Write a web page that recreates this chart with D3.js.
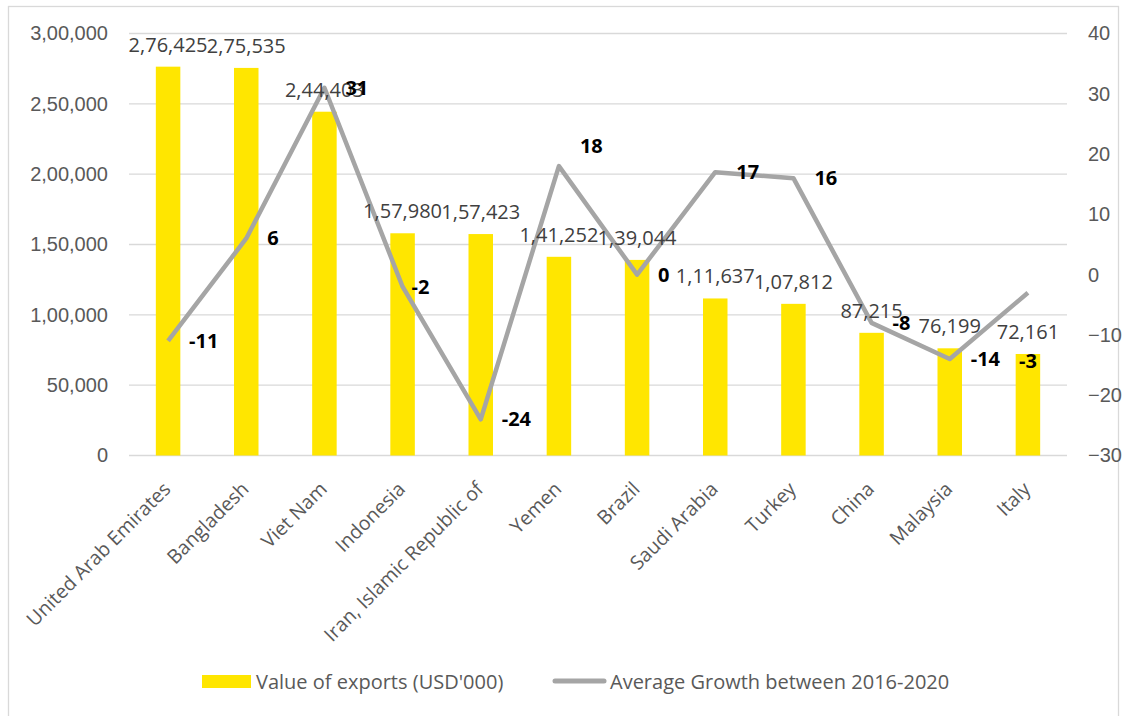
<!DOCTYPE html>
<html>
<head>
<meta charset="utf-8">
<script src="https://cdn.jsdelivr.net/npm/d3@7"></script>
<style>
  body { margin: 0; background: #fff; }
  svg { font-family: "Open Sans", sans-serif; }
</style>
</head>
<body>
<svg id="chart" width="1126" height="716"></svg>
<script>
// chart data
var countries = ["United Arab Emirates", "Bangladesh", "Viet Nam", "Indonesia",
    "Iran, Islamic Republic of", "Yemen", "Brazil", "Saudi Arabia", "Turkey",
    "China", "Malaysia", "Italy"];
var exportValues = [276425, 275535, 244403, 157980, 157423, 141252, 139044,
    111637, 107812, 87215, 76199, 72161];
var growth = [-11, 6, 31, -2, -24, 18, 0, 17, 16, -8, -14, -3];
var leftTicks = [0, 50000, 100000, 150000, 200000, 250000, 300000];
var rightTicks = [-30, -20, -10, 0, 10, 20, 30, 40];

// indian style grouping, e.g. 2,76,425
function inrFormat(n) {
    var s = String(Math.round(n));
    if (s.length <= 3) return s;
    var last3 = s.slice(-3);
    var rest = s.slice(0, -3);
    rest = rest.replace(/\B(?=(\d{2})+(?!\d))/g, ",");
    return rest + "," + last3;
}

var svg = d3.select("#chart");

var plotLeft = 129, plotRight = 1067, plotTop = 33.5, plotBottom = 455.5;

// outer border
svg.append("rect")
    .attr("x", 8.5).attr("y", 6.5)
    .attr("width", 1110).attr("height", 730)
    .attr("fill", "none")
    .attr("stroke", "#d9d9d9")
    .attr("stroke-width", 1.3);

var x = d3.scaleBand()
    .domain(countries)
    .range([plotLeft, plotRight])
    .paddingInner(0)
    .paddingOuter(0);

var y = d3.scaleLinear()
    .domain([0, 300000])
    .range([plotBottom, plotTop]);

var y2 = d3.scaleLinear()
    .domain([-30, 40])
    .range([plotBottom, plotTop]);

// gridlines
svg.append("g")
    .selectAll("line")
    .data(leftTicks)
    .join("line")
    .attr("x1", plotLeft).attr("x2", plotRight)
    .attr("y1", d => y(d)).attr("y2", d => y(d))
    .attr("stroke", "#d9d9d9")
    .attr("stroke-width", 1.3);

// left axis
var leftAxis = d3.axisLeft(y)
    .tickValues(leftTicks)
    .tickFormat(inrFormat)
    .tickSize(0)
    .tickPadding(21);

svg.append("g")
    .attr("transform", "translate(" + plotLeft + ",0)")
    .call(leftAxis)
    .call(g => g.select(".domain").remove())
    .selectAll("text")
    .attr("fill", "#595959")
    .style("font-size", "20px");

// right axis
var rightAxis = d3.axisRight(y2)
    .tickValues(rightTicks)
    .tickSize(0)
    .tickPadding(21);

svg.append("g")
    .attr("transform", "translate(" + plotRight + ",0)")
    .call(rightAxis)
    .call(g => g.select(".domain").remove())
    .selectAll("text")
    .attr("fill", "#595959")
    .style("font-size", "20px");

// bars
var barW = 24.5;
svg.append("g")
    .selectAll("rect")
    .data(countries)
    .join("rect")
    .attr("x", (d, i) => x(d) + x.bandwidth() / 2 - barW / 2)
    .attr("y", (d, i) => y(exportValues[i]))
    .attr("width", barW)
    .attr("height", (d, i) => plotBottom - y(exportValues[i]))
    .attr("fill", "#ffe600");

// growth line
var line = d3.line()
    .x((d, i) => x(countries[i]) + x.bandwidth() / 2)
    .y(d => y2(d));

svg.append("path")
    .datum(growth)
    .attr("d", line)
    .attr("fill", "none")
    .attr("stroke", "#a5a5a5")
    .attr("stroke-width", 4.5)
    .attr("stroke-linejoin", "round");

// bar labels
svg.append("g")
    .selectAll("text")
    .data(countries)
    .join("text")
    .attr("x", (d, i) => x(d) + x.bandwidth() / 2)
    .attr("y", (d, i) => y(exportValues[i]) - 15)
    .attr("text-anchor", "middle")
    .attr("fill", "#404040")
    .style("font-size", "20px")
    .text((d, i) => inrFormat(exportValues[i]));

// growth labels, placed to the right of each point (a few moved by hand)
var nudge = { "Yemen": [0, -20], "Indonesia": [-12, 0] };
svg.append("g")
    .selectAll("text")
    .data(countries)
    .join("text")
    .attr("x", (d, i) => {
        var cx = x(d) + x.bandwidth() / 2;
        if (d === "Italy") return cx;
        return cx + 21 + (nudge[d] ? nudge[d][0] : 0);
    })
    .attr("y", (d, i) => {
        var cy = y2(growth[i]);
        if (d === "Italy") return cy + 68;
        return cy + (nudge[d] ? nudge[d][1] : 0);
    })
    .attr("dy", "0.35em")
    .attr("text-anchor", d => d === "Italy" ? "middle" : "start")
    .attr("fill", "#000")
    .style("font-size", "20px")
    .style("font-weight", "bold")
    .text((d, i) => growth[i]);

// category labels
svg.append("g")
    .selectAll("text")
    .data(countries)
    .join("text")
    .attr("transform", d => "translate(" + (x(d) + x.bandwidth() / 2 - 1) + "," + (plotBottom + 30) + ") rotate(-45)")
    .attr("text-anchor", "end")
    .attr("dy", "0.35em")
    .attr("fill", "#595959")
    .style("font-size", "19.5px")
    .text(d => d);

// legend
var legend = svg.append("g");
legend.append("rect")
    .attr("x", 202).attr("y", 675)
    .attr("width", 49).attr("height", 13)
    .attr("fill", "#ffe600");
legend.append("text")
    .attr("x", 256).attr("y", 682)
    .attr("dy", "0.35em")
    .attr("fill", "#595959")
    .style("font-size", "20px")
    .text("Value of exports (USD'000)");
legend.append("line")
    .attr("x1", 555).attr("x2", 604)
    .attr("y1", 681).attr("y2", 681)
    .attr("stroke", "#a5a5a5")
    .attr("stroke-width", 5)
    .attr("stroke-linecap", "round");
legend.append("text")
    .attr("x", 610).attr("y", 682)
    .attr("dy", "0.35em")
    .attr("fill", "#595959")
    .style("font-size", "20px")
    .text("Average Growth between 2016-2020");
</script>
</body>
</html>
